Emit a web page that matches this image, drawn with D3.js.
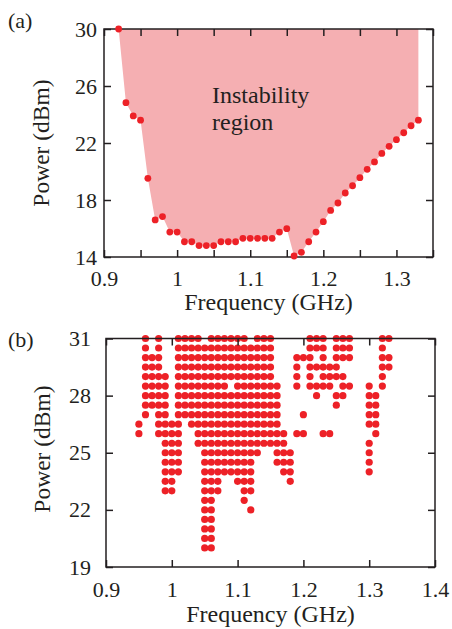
<!DOCTYPE html>
<html><head><meta charset="utf-8">
<script src="https://cdn.jsdelivr.net/npm/d3@7"></script>
<style>body{margin:0;background:#fff;}svg{display:block;}text{font-family:"Liberation Serif","Times New Roman",serif;fill:#231f20;}</style>
</head><body>
<script>
// ---------- Panel (a) data ----------
const freqA = [0.92,0.93,0.94,0.95,0.96,0.97,0.98,0.99,1.00,1.01,1.02,1.03,1.04,1.05,1.06,1.07,1.08,1.09,1.10,1.11,1.12,1.13,1.14,1.15,1.16,1.17,1.18,1.19,1.20,1.21,1.22,1.23,1.24,1.25,1.26,1.27,1.28,1.29,1.30,1.31,1.32,1.33];
const powerA = [30,24.83,23.9,23.6,19.52,16.6,16.84,15.75,15.75,15.07,15.07,14.8,14.8,14.8,15.07,15.07,15.07,15.31,15.31,15.31,15.31,15.31,15.75,15.99,14.07,14.33,15.07,15.75,16.48,17.27,17.79,18.49,19.0,19.57,20.15,20.67,21.27,21.77,22.23,22.72,23.21,23.6];
const xTicksA = [0.9,0.95,1.0,1.05,1.1,1.15,1.2,1.25,1.3,1.35];
const xTickLabelsA = ["0.9","","1","","1.1","","1.2","","1.3",""];
const yTicksA = [14,18,22,26,30];
const annotationA = ["Instability","region"];

// ---------- Panel (b) data ----------
const powerB = [31,30.5,30,29.5,29,28.5,28,27.5,27,26.5,26,25.5,25,24.5,24,23.5,23,22.5,22,21.5,21,20.5,20];
const freqB = [
 [0.96,0.98,1.01,1.02,1.03,1.04,1.06,1.07,1.08,1.09,1.10,1.11,1.13,1.14,1.15,1.21,1.22,1.23,1.25,1.26,1.27,1.32,1.33],
 [0.96,0.98,1.01,1.02,1.03,1.04,1.05,1.06,1.07,1.08,1.09,1.10,1.11,1.12,1.13,1.14,1.15,1.21,1.22,1.23,1.25,1.26,1.27,1.32],
 [0.96,0.97,0.98,1.01,1.02,1.03,1.04,1.05,1.06,1.07,1.08,1.09,1.10,1.11,1.12,1.13,1.14,1.15,1.19,1.20,1.21,1.23,1.25,1.26,1.27,1.32,1.33],
 [0.96,0.97,0.98,1.01,1.02,1.03,1.04,1.05,1.06,1.07,1.08,1.09,1.10,1.11,1.12,1.13,1.14,1.15,1.19,1.21,1.22,1.23,1.24,1.25,1.32,1.33],
 [0.96,0.97,0.98,0.99,1.01,1.02,1.03,1.04,1.05,1.06,1.07,1.08,1.09,1.10,1.11,1.12,1.13,1.14,1.15,1.19,1.21,1.23,1.24,1.25,1.26,1.32],
 [0.96,0.97,0.98,0.99,1.01,1.02,1.03,1.04,1.05,1.06,1.07,1.08,1.10,1.11,1.12,1.13,1.14,1.15,1.16,1.19,1.21,1.22,1.23,1.24,1.26,1.27,1.30,1.32],
 [0.96,0.97,0.98,0.99,1.01,1.02,1.03,1.04,1.05,1.06,1.07,1.08,1.09,1.10,1.11,1.12,1.13,1.14,1.15,1.16,1.22,1.25,1.26,1.30,1.31],
 [0.96,0.97,0.98,0.99,1.01,1.02,1.03,1.04,1.05,1.06,1.07,1.08,1.09,1.10,1.11,1.12,1.13,1.14,1.15,1.16,1.25,1.30,1.31],
 [0.96,0.98,0.99,1.01,1.02,1.03,1.04,1.05,1.06,1.07,1.08,1.09,1.10,1.11,1.12,1.13,1.14,1.15,1.16,1.20,1.30,1.31],
 [0.95,0.98,0.99,1.00,1.01,1.03,1.04,1.05,1.06,1.07,1.08,1.09,1.10,1.11,1.12,1.13,1.14,1.15,1.16,1.30,1.31],
 [0.95,0.98,0.99,1.00,1.01,1.04,1.05,1.06,1.07,1.08,1.09,1.10,1.11,1.12,1.13,1.14,1.15,1.16,1.17,1.19,1.20,1.23,1.24,1.31],
 [0.99,1.00,1.01,1.04,1.05,1.06,1.07,1.08,1.09,1.10,1.11,1.12,1.13,1.14,1.15,1.16,1.17,1.30],
 [0.99,1.00,1.01,1.05,1.06,1.07,1.08,1.09,1.10,1.11,1.12,1.13,1.16,1.17,1.18,1.30],
 [0.99,1.00,1.01,1.05,1.06,1.07,1.08,1.09,1.10,1.11,1.12,1.16,1.17,1.18,1.30],
 [0.99,1.00,1.01,1.05,1.06,1.07,1.08,1.09,1.10,1.11,1.12,1.17,1.18,1.30],
 [0.99,1.00,1.05,1.06,1.07,1.10,1.11,1.12,1.18],
 [0.99,1.00,1.05,1.06,1.07,1.11,1.12],
 [1.05,1.06,1.11],
 [1.05,1.06,1.12],
 [1.05,1.06],
 [1.05,1.06],
 [1.05,1.06],
 [1.05,1.06]
];
const xTicksB = [0.9,1.0,1.1,1.2,1.3,1.4];
const xTickLabelsB = ["0.9","1","1.1","1.2","1.3","1.4"];
const yTicksB = [19,22,25,28,31];

const RED = "#ed2127", PINK = "#f5afb2", INK = "#231f20";

const svg = d3.select("body").append("svg").attr("width",452).attr("height",629);

function frame(g, x, y, xt, xl, yt, ylPad, xlPad){
  const [x0,x1] = x.range(), [y1,y0] = y.range();
  const fmtX = (d,i)=>xl[i];
  g.append("g").attr("transform",`translate(0,${y1})`)
    .call(d3.axisBottom(x).tickValues(xt).tickFormat(fmtX).tickSizeInner(-7).tickSizeOuter(0).tickPadding(xlPad));
  g.append("g").attr("transform",`translate(0,${y0})`)
    .call(d3.axisTop(x).tickValues(xt).tickFormat("").tickSizeInner(-7).tickSizeOuter(0));
  g.append("g").attr("transform",`translate(${x0},0)`)
    .call(d3.axisLeft(y).tickValues(yt).tickFormat(d3.format("d")).tickSizeInner(-7).tickSizeOuter(0).tickPadding(ylPad));
  g.append("g").attr("transform",`translate(${x1},0)`)
    .call(d3.axisRight(y).tickValues(yt).tickFormat("").tickSizeInner(-7).tickSizeOuter(0));
  g.selectAll(".domain").remove();
  g.selectAll(".tick line").attr("stroke",INK).attr("stroke-width",1.5);
  g.selectAll(".tick text").attr("font-size",22).attr("fill",INK).style("font-family","'Liberation Serif',serif");
  g.append("rect").attr("x",x0).attr("y",y0).attr("width",x1-x0).attr("height",y1-y0)
    .attr("fill","none").attr("stroke",INK).attr("stroke-width",1.5);
}

// ---------- Panel (a) ----------
const xA = d3.scaleLinear().domain([0.9,1.35]).range([104,433]);
const yA = d3.scaleLinear().domain([14,30]).range([257,29]);
const gA = svg.append("g");
const ptsA = freqA.map((f,i)=>[f,powerA[i]]);
const area = ptsA.concat([[freqA[freqA.length-1],30],[freqA[0],30]]);
gA.append("path").attr("d", d3.line().x(d=>xA(d[0])).y(d=>yA(d[1]))(area)+"Z").attr("fill",PINK);
gA.append("text").attr("x",212).attr("y",103).attr("font-size",24).text(annotationA[0]);
gA.append("text").attr("x",212).attr("y",130).attr("font-size",24).text(annotationA[1]);
frame(gA, xA, yA, xTicksA, xTickLabelsA, yTicksA, 7, 13);
gA.selectAll("circle.a").data(ptsA).join("circle").attr("class","a")
  .attr("cx",d=>xA(d[0])).attr("cy",d=>yA(d[1])).attr("r",3.4).attr("fill",RED);
svg.append("text").attr("x",8).attr("y",28).attr("font-size",22).text("(a)");
svg.append("text").attr("x",268.5).attr("y",310).attr("text-anchor","middle").attr("font-size",24).text("Frequency (GHz)");
svg.append("text").attr("transform","translate(49,143) rotate(-90)").attr("text-anchor","middle").attr("font-size",23.5).text("Power (dBm)");

// ---------- Panel (b) ----------
const xB = d3.scaleLinear().domain([0.9,1.4]).range([106,435]);
const yB = d3.scaleLinear().domain([19,31]).range([567,338.5]);
const gB = svg.append("g");
const ptsB = [];
powerB.forEach((p,i)=>freqB[i].forEach(f=>ptsB.push([f,p])));
gB.selectAll("circle").data(ptsB).join("circle")
  .attr("cx",d=>xB(d[0])).attr("cy",d=>yB(d[1])).attr("r",3.6).attr("fill",RED);
frame(gB, xB, yB, xTicksB, xTickLabelsB, yTicksB, 15, 14);
svg.append("text").attr("x",8).attr("y",347).attr("font-size",22).text("(b)");
svg.append("text").attr("x",270.5).attr("y",622).attr("text-anchor","middle").attr("font-size",24).text("Frequency (GHz)");
svg.append("text").attr("transform","translate(50,449) rotate(-90)").attr("text-anchor","middle").attr("font-size",23.5).text("Power (dBm)");
</script>
</body></html>
